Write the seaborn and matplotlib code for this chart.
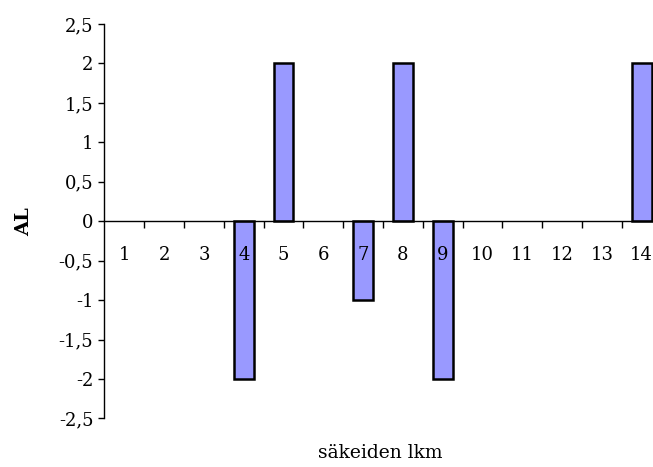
import matplotlib
matplotlib.use("Agg")
import matplotlib.pyplot as plt
import seaborn as sns
import pandas as pd
from matplotlib.ticker import FixedLocator, FixedFormatter

# Category labels (number of verses) and their AL values
categories = ["1", "2", "3", "4", "5", "6", "7", "8", "9", "10", "11", "12", "13", "14"]
al_values = [0, 0, 0, -2, 2, 0, -1, 2, -2, 0, 0, 0, 0, 2]

y_ticks = [-2.5, -2, -1.5, -1, -0.5, 0, 0.5, 1, 1.5, 2, 2.5]
y_tick_labels = ["-2,5", "-2", "-1,5", "-1", "-0,5", "0", "0,5", "1", "1,5", "2", "2,5"]

x_title = "säkeiden lkm"
y_title = "AL"

df = pd.DataFrame({"lkm": categories, "AL": al_values})

sns.set_theme(style="white")
plt.rcParams["font.family"] = ["DejaVu Serif"]
plt.rcParams["text.color"] = "black"
plt.rcParams["axes.labelcolor"] = "black"
plt.rcParams["xtick.labelcolor"] = "black"
plt.rcParams["ytick.labelcolor"] = "black"

fig = plt.figure(figsize=(6.53, 4.67), dpi=100)
ax = fig.add_axes([0.160, 0.1039, 0.853, 0.8447])

sns.barplot(data=df, x="lkm", y="AL", order=categories, color="#9999FF",
            saturation=1, width=0.5, edgecolor="black", linewidth=1.8, ax=ax)

# zero-height bars leave no visible mark
for bar in ax.patches:
    if bar.get_height() == 0:
        bar.set_visible(False)

ax.set_xlim(-0.5, len(categories) - 0.5)
ax.set_ylim(-2.5, 2.5)
ax.set_axisbelow(False)

# y axis: comma decimal labels, outward ticks
ax.yaxis.set_major_locator(FixedLocator(y_ticks))
ax.yaxis.set_major_formatter(FixedFormatter(y_tick_labels))
ax.tick_params(axis="y", which="major", direction="out", length=4, width=1,
               color="black", labelcolor="black", labelsize=13, pad=4, left=True)

# x axis runs along zero; category labels sit below it, ticks at boundaries
for side in ["top", "right"]:
    ax.spines[side].set_visible(False)
ax.spines["bottom"].set_position(("data", 0))
for side in ["left", "bottom"]:
    ax.spines[side].set_color("black")
    ax.spines[side].set_linewidth(1)

ax.set_xticks(range(len(categories)))
ax.set_xticklabels(categories)
ax.set_xticks([i + 0.5 for i in range(len(categories) - 1)], minor=True)
ax.tick_params(axis="x", which="major", length=0, labelcolor="black",
               labelsize=13, pad=18)
ax.tick_params(axis="x", which="minor", direction="out", length=5, width=1,
               color="black", bottom=True)

ax.set_xlabel(x_title, fontsize=13.5, color="black")
ax.xaxis.set_label_coords(0.495, -0.065)
ax.set_ylabel(y_title, fontsize=14, fontweight="bold", color="black")
ax.yaxis.set_label_coords(-0.128, 0.5)

fig.savefig("out.png", dpi=100)
